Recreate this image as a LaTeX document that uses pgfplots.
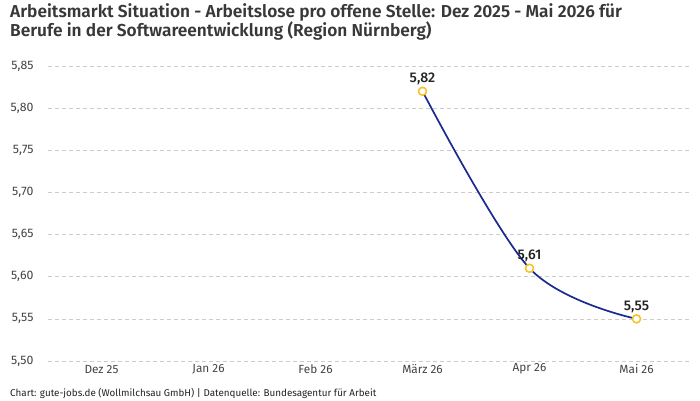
\documentclass[border=0pt]{standalone}
\usepackage{fontspec}
\setmainfont{Fira Sans}
\newfontfamily\titlefont{Fira Sans SemiBold}
\newfontfamily\labelfont{Fira Sans Medium}
\usepackage{pgfplots}
\pgfplotsset{compat=1.18}

\definecolor{linecol}{HTML}{1B2A8F}
\definecolor{markcol}{HTML}{F7C22A}
\definecolor{gridcol}{HTML}{CCCCCC}
\definecolor{txt}{HTML}{222222}

\begin{document}
\begin{tikzpicture}[x=1pt,y=1pt]
\path[use as bounding box] (0,0) rectangle (700,400);
\begin{axis}[
  at={(48pt,39pt)}, anchor=south west,
  scale only axis, width=642pt, height=295pt,
  xmin=-0.5, xmax=5.5, ymin=5.50, ymax=5.85,
  xtick={0,1,2,3,4,5},
  xticklabels={Dez 25,Jan 26,Feb 26,März 26,Apr 26,Mai 26},
  ytick={5.50,5.55,5.60,5.65,5.70,5.75,5.80,5.85},
  axis line style={draw=none},
  major tick length=0pt,
  ymajorgrids,
  major grid style={gridcol, dashed, line width=0.6pt, dash pattern=on 4pt off 3pt},
  /pgf/number format/.cd, use comma, fixed, fixed zerofill, precision=2, assume math mode=true,
  /pgfplots/.cd,
  yticklabel style={font=\fontsize{12.3}{14}\selectfont, text=txt!85, anchor=east, xshift=-11pt},
  xticklabel style={font=\fontsize{11.8}{13}\selectfont, text=txt!85, anchor=center, yshift=-8pt},
  clip=false,
]
\addplot[linecol, line width=1.7pt, smooth, tension=0.55,
  mark=*, mark size=4pt, mark options={draw=markcol, fill=white, line width=1.6pt},
  nodes near coords, point meta=explicit,
  nodes near coords style={font=\labelfont\fontsize{14}{15}\selectfont, text=txt, anchor=south, yshift=2pt,
    /pgf/number format/.cd, use comma, fixed, fixed zerofill, precision=2}]
  coordinates {(3,5.82) [5.82] (4,5.61) [5.61] (5,5.55) [5.55]};
\end{axis}
\node[anchor=north west, inner sep=0pt, text=txt!90, align=left, font=\titlefont\fontsize{17.3}{19.5}\selectfont]
  at (10,397) {Arbeitsmarkt Situation - Arbeitslose pro offene Stelle: Dez 2025 - Mai 2026 für\\Berufe in der Softwareentwicklung (Region Nürnberg)};
\node[anchor=base west, inner sep=0pt, text=txt, font=\fontsize{9.85}{11}\selectfont]
  at (10,4) {Chart: gute-jobs.de (Wollmilchsau GmbH) | Datenquelle: Bundesagentur für Arbeit};
\end{tikzpicture}
\end{document}
